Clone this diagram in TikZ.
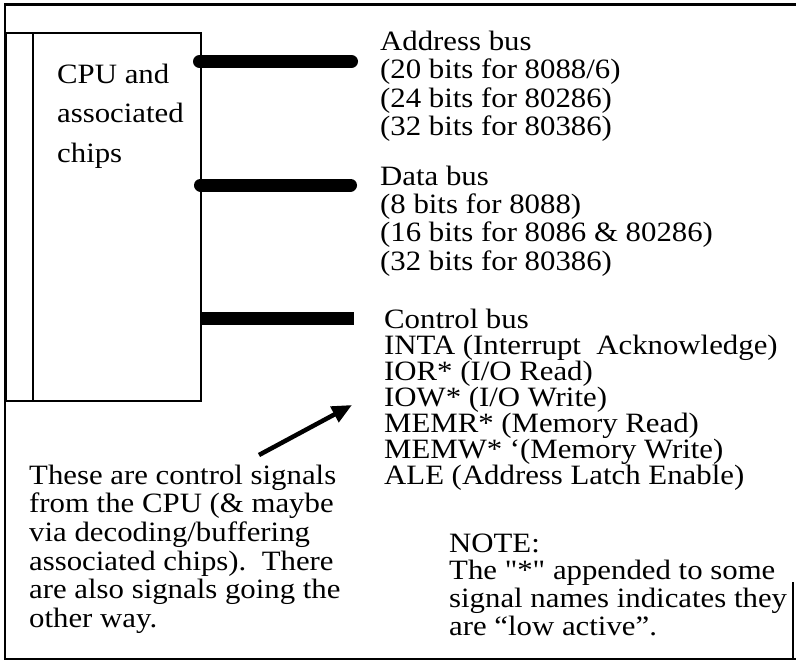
\documentclass[tikz,border=0pt]{standalone}
\usepackage{fontspec}
\setmainfont{Liberation Serif}[FakeStretch=1.1]
\newfontfamily\rawserif{Liberation Serif}[FakeStretch=1.1]
\usetikzlibrary{arrows.meta}
\begin{document}
\begin{tikzpicture}[x=1pt,y=-1pt,
  frame/.style={line width=2.5pt},
  boxline/.style={line width=2.2pt},
  bus/.style={line width=13pt, line cap=round},
  ctrlbus/.style={line width=13.5pt, line cap=butt},
  txt/.style={anchor=base west, inner sep=0pt, font=\fontsize{28}{30}\selectfont},
  pointer/.style={line width=4.5pt, -{Triangle[length=20pt,width=17pt]}}]
\useasboundingbox (0,0) rectangle (796,662);
% outer frame
\draw[frame] (796,4.5) -- (5,4.5) -- (5,659) -- (796,659);
\draw[frame] (793,582) -- (793,659);
% CPU box
\node[draw, boxline, minimum width=195pt, minimum height=368pt, inner sep=0pt,
      anchor=north west] (cpu) at (5,32) {};
\draw[boxline] ([xshift=28pt]cpu.north west) -- ([xshift=28pt]cpu.south west);
\foreach \t [count=\i from 0] in {CPU and, associated, chips}
  \node[txt] (cpu\i) at (57,{83+39.5*\i}) {\t};
% buses
\coordinate (abusL) at (199.5,61.5); \coordinate (abusR) at (351.5,61.5);
\coordinate (dbusL) at (200.5,185);  \coordinate (dbusR) at (350.5,185);
\coordinate (cbusL) at (200,318.5);  \coordinate (cbusR) at (354,318.5);
\draw[bus] (abusL) -- (abusR);
\draw[bus] (dbusL) -- (dbusR);
\draw[ctrlbus] (cbusL) -- (cbusR);
% address bus text
\foreach \t [count=\i from 0] in {Address bus, {(20 bits for 8088/6)}, {(24 bits for 80286)}, {(32 bits for 80386)}}
  \node[txt] (addr\i) at (380,{50+28.5*\i}) {\t};
% data bus text
\foreach \t [count=\i from 0] in {Data bus, {(8 bits for 8088)}, {(16 bits for 8086 \& 80286)}, {(32 bits for 80386)}}
  \node[txt] (data\i) at (380,{185+28.4*\i}) {\t};
% control bus text
\foreach \t [count=\i from 0] in {Control bus, {INTA (Interrupt\ \ Acknowledge)}, {IOR* (I/O Read)}, {IOW* (I/O Write)}, {MEMR* (Memory Read)}, {MEMW* ‘(Memory Write)}, {ALE (Address Latch Enable)}}
  \node[txt] (ctrl\i) at (384,{328+26*\i}) {\t};
% explanation
\foreach \t [count=\i from 0] in {These are control signals, {from the CPU (\& maybe}, {via decoding/buffering}, {associated chips).\ \ There}, {are also signals going the}, {other way.}}
  \node[txt] (expl\i) at (29,{484+28.7*\i}) {\t};
% note
\foreach \t [count=\i from 0] in {NOTE:, {The {\rawserif"*"} appended to some}, {signal names indicates they}, {are “low active”.}}
  \node[txt] (note\i) at (449,{552+27.7*\i}) {\t};
% pointer arrow
\coordinate (ptail) at (259,455);
\coordinate (ptip) at (352,405);
\draw[pointer] (ptail) -- (ptip);
\end{tikzpicture}
\end{document}
